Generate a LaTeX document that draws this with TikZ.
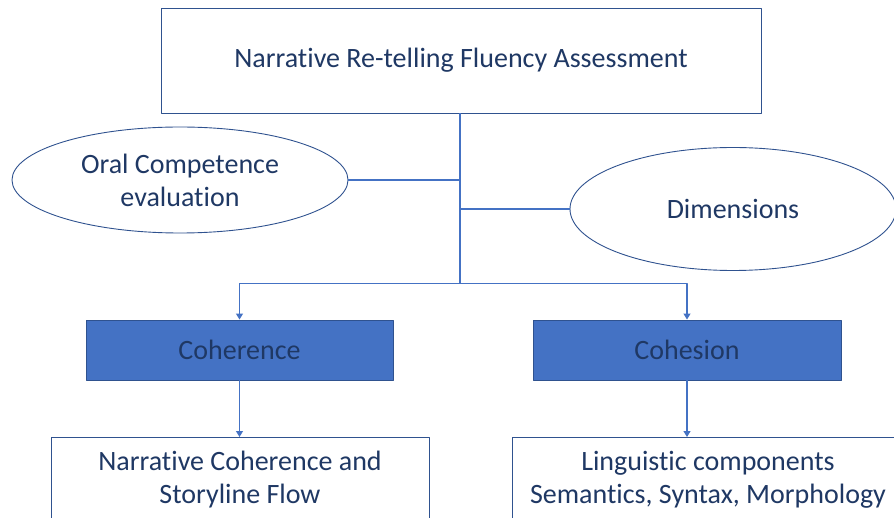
\documentclass[tikz,border=0pt]{standalone}
\usepackage{fontspec}
\setmainfont{Carlito}[Ligatures=NoCommon]
\usetikzlibrary{arrows.meta,shapes.geometric,positioning}
\definecolor{linkblue}{HTML}{4472C4}
\definecolor{edgeblue}{HTML}{2F528F}
\definecolor{inkblue}{HTML}{1F3864}
\tikzset{
  box/.style={draw=edgeblue, line width=0.9pt, fill=white, text=inkblue, align=center, inner sep=0pt},
  dimbox/.style={box, fill=linkblue},
  oval/.style={ellipse, draw=edgeblue, line width=0.9pt, text=inkblue, align=center, inner sep=0pt},
  txt/.style={text=inkblue, align=center, inner sep=0pt},
  link/.style={draw=linkblue, line width=1.2pt},
  arr/.style={link, -{Triangle[width=7pt,length=6pt]}}
}
\begin{document}
\begin{tikzpicture}[x=1pt, y=-1pt, font=\fontsize{28}{33}\selectfont, line join=round]
	\useasboundingbox (0,0) rectangle (894,518);
	\clip (0,0) rectangle (894,518);
	% title and the two ovals
	\node[box, minimum width=600pt, minimum height=105pt] (title) at (461,60.5) {Narrative Re-telling Fluency Assessment};
	\node[oval, minimum width=336pt, minimum height=106pt] (oral) at (180,180) {Oral Competence\\evaluation};
	\node[oval, minimum width=326pt, minimum height=123pt] (dims) at (733,209) {Dimensions};
	% dimension boxes
	\node[dimbox, minimum width=307pt, minimum height=60pt] (coh) at (239.5,350) {Coherence};
	\node[dimbox, minimum width=308pt, minimum height=60pt] (cos) at (687,350) {Cohesion};
	% bottom boxes (cut by the page edge)
	\node[box, anchor=north, minimum width=378pt, minimum height=130pt] (flow) at (240,437) {};
	\node[box, anchor=north, minimum width=392pt, minimum height=130pt] (ling) at (708,437) {};
	\node[txt, below=14pt of flow.north] (flowtext) {Narrative Coherence and\\Storyline Flow};
	\node[txt, below=14pt of ling.north] (lingtext) {Linguistic components\\Semantics, Syntax, Morphology};
	% connectors
	\path (title.south) ++(-1,170) coordinate (j);
	\draw[link] (title.south -| j) -- (j);
	\draw[link] (oral.east) -- (oral.east -| j);
	\draw[link] (dims.west) -- (dims.west -| j);
	\draw[arr] (j) -| (coh.north);
	\draw[arr] (j) -| (cos.north);
	\draw[arr] (coh.south) -- (flow.north -| coh.south);
	\draw[arr] (cos.south) -- (ling.north -| cos.south);
\end{tikzpicture}
\end{document}
